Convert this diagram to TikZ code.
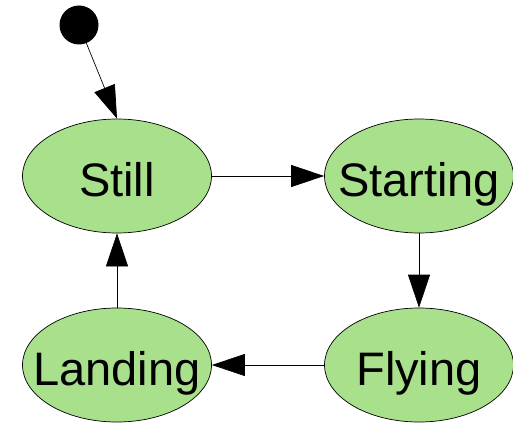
\documentclass[tikz,border=0pt]{standalone}
\usepackage{fontspec}
\setmainfont{Liberation Sans}
\usetikzlibrary{shapes.geometric, arrows.meta}
\definecolor{stategreen}{RGB}{169,224,140}
\begin{document}
\begin{tikzpicture}[
    x=1pt, y=-1pt,
    state/.style={ellipse, draw, fill=stategreen, line width=0.7pt, inner sep=0pt,
        minimum width=189pt, minimum height=114pt, text height=40pt, text depth=0pt,
        font=\fontsize{47}{50}\selectfont},
    start/.style={circle, fill=black, minimum size=39pt, inner sep=0pt},
    arrow/.style={-{Triangle[length=33pt, width=22pt]}, line width=0.7pt}
]
    \useasboundingbox (0,0) rectangle (513,425);

    % Initial point and states
    \node[start] (init) at (79,25) {};
    \node[state] (still) at (117,176) {\makebox[0pt]{Still}};
    \node[state] (starting) at (419,176) {\makebox[0pt]{Starting}};
    \node[state] (flying) at (419,365) {\makebox[0pt]{Flying}};
    \node[state] (landing) at (117,365) {\makebox[0pt]{Landing}};

    % Transitions
    \draw[arrow] (init) -- (still.north);
    \draw[arrow] (still) -- (starting);
    \draw[arrow] (starting) -- (flying);
    \draw[arrow] (flying) -- (landing);
    \draw[arrow] (landing) -- (still);
\end{tikzpicture}
\end{document}
